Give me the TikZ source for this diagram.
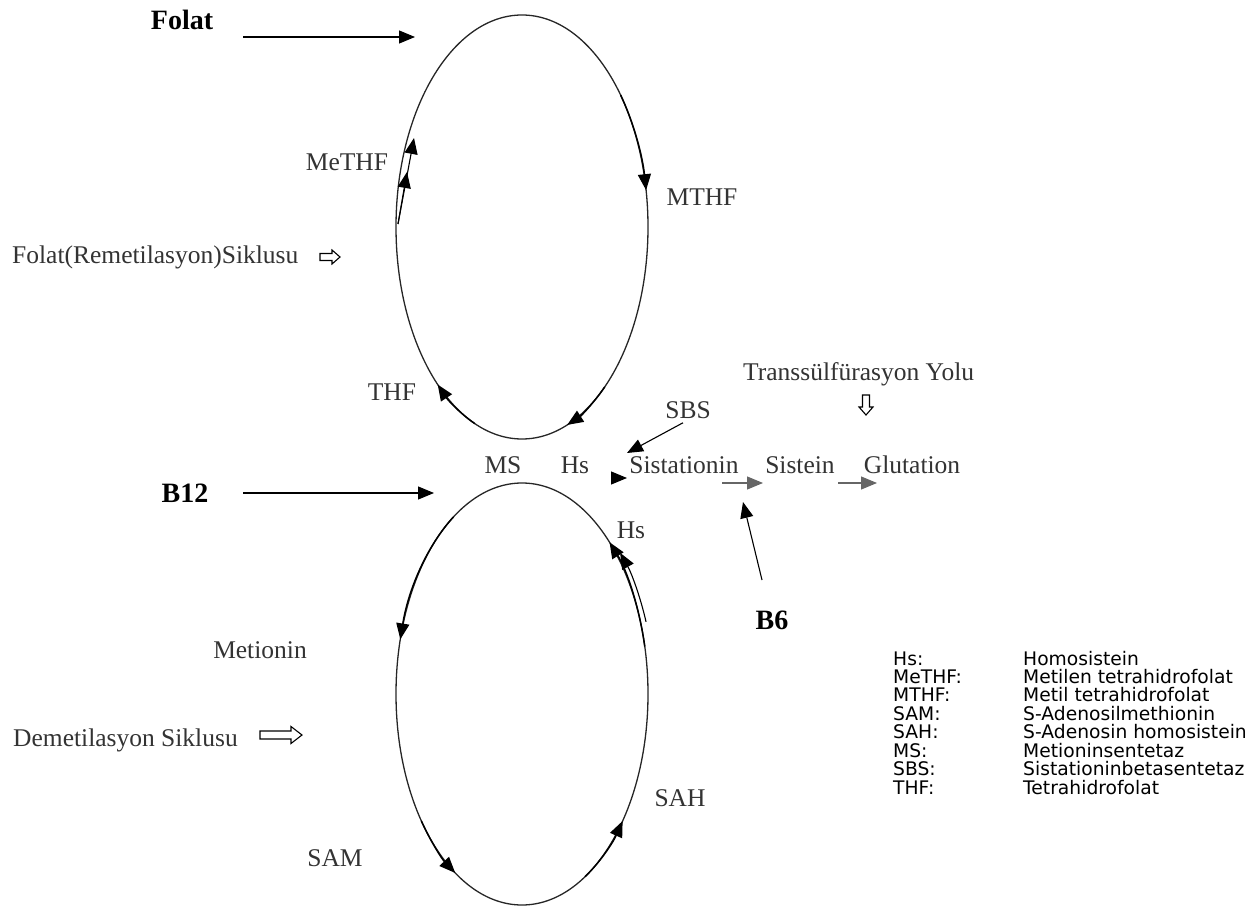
\documentclass[tikz,border=0pt]{standalone}
\usepackage{fontspec}
\setmainfont{Liberation Serif}
\newfontfamily\legendfont{DejaVu Sans}
\usetikzlibrary{arrows.meta}
\tikzset{
  lbl/.style={font=\fontsize{25.5}{30}\selectfont, text=black!80, inner sep=0pt},
  blbl/.style={font=\fontsize{28}{32}\selectfont\bfseries, inner sep=0pt},
  leg/.style={font=\legendfont\fontsize{18.7}{19}\selectfont, inner sep=0pt, anchor=base west},
  arr/.style={line width=1.5pt, -{Triangle[length=16pt,width=13pt]}},
  thinarr/.style={line width=1.1pt, -{Triangle[length=16pt,width=13pt]}},
  cyc/.style={line width=1.3pt, draw=black!85},
  hollowarrow/.style={draw, line width=1.1pt, line join=miter}
}
\begin{document}
\begin{tikzpicture}[x=1pt,y=-1pt]
\useasboundingbox (0,0) rectangle (1258,909);
% cycles
\coordinate (up) at (522,227);
\coordinate (lo) at (522,694);
\draw[cyc] (up) ellipse [x radius=126, y radius=212];
\draw[cyc] (lo) ellipse [x radius=126, y radius=211];
% arrows on upper cycle
\draw[arr] (up) ++(321.5:126 and 212) arc[start angle=321.5, end angle=350, x radius=126, y radius=212];
\draw[arr] (up) ++(49:126 and 212) arc[start angle=49, end angle=69, x radius=126, y radius=212];
\draw[arr] (up) ++(112:126 and 212) arc[start angle=112, end angle=132, x radius=126, y radius=212];
\coordinate (me0) at (398,224);
\coordinate (me1) at (414,138);
\coordinate (me2) at (407,172);
\draw[thinarr] (me0) -- (me1);
\draw[thinarr] (me0) -- (me2);
% arrows on lower cycle
\draw[arr] (lo) ++(237:126 and 211) arc[start angle=237, end angle=195, x radius=126, y radius=211];
\draw[arr] (lo) ++(347:126 and 211) arc[start angle=347, end angle=314, x radius=126, y radius=211];
\draw[thinarr] (lo) ++(340:132 and 211) arc[start angle=340, end angle=318, x radius=132, y radius=211];
\draw[arr] (lo) ++(143:126 and 211) arc[start angle=143, end angle=122, x radius=126, y radius=211];
\draw[arr] (lo) ++(60:126 and 211) arc[start angle=60, end angle=37, x radius=126, y radius=211];
% labels
\node[blbl] (folat) at (182,20) {Folat};
\coordinate (folatA) at (243,37);
\coordinate (folatB) at (415,37);
\draw[thinarr] (folatA) -- (folatB);
\node[lbl] (methf) at (347,162) {MeTHF};
\node[lbl] (mthf) at (702,197) {MTHF};
\node[lbl, anchor=west] (fcyc) at (12,257) {Folat(Remetilasyon)Siklusu};
\draw[hollowarrow, shift={(330,257)}] (-10,-3.5) -- (2,-3.5) -- (2,-7) -- (10,0) -- (2,7) -- (2,3.5) -- (-10,3.5) -- cycle;
\node[lbl, anchor=west] (trans) at (743,374) {Transsülfürasyon Yolu};
\draw[hollowarrow, shift={(866,405)}] (-3.5,-10) -- (-3.5,2) -- (-7,2) -- (0,10) -- (7,2) -- (3.5,2) -- (3.5,-10) -- cycle;
\node[lbl] (thf) at (392,392) {THF};
\node[lbl] (sbs) at (688,410) {SBS};
\node[lbl] (ms) at (503,465) {MS};
\node[lbl] (hs) at (575,465) {Hs};
\node[lbl] (sist) at (684,465) {Sistationin};
\node[lbl] (sistein) at (800,465) {Sistein};
\node[lbl] (glut) at (912,465) {Glutation};
\draw[thinarr] (sbs.south) ++(-5,4) coordinate (sbsA) -- (627,453) coordinate (sbsB);
\coordinate (hsA) at (611,478);
\coordinate (hsB) at (627,478);
\draw[thinarr] (hsA) -- (hsB);
\coordinate (s1A) at (722,483);
\coordinate (s1B) at (763,483);
\draw[thinarr, draw=black!60] (s1A) -- (s1B);
\coordinate (s2A) at (838,483);
\coordinate (s2B) at (877,483);
\draw[thinarr, draw=black!60] (s2A) -- (s2B);
\node[blbl] (b12) at (185,493) {B12};
\coordinate (b12A) at (243,493);
\coordinate (b12B) at (434,493);
\draw[thinarr] (b12A) -- (b12B);
\node[lbl] (hs2) at (631,530) {Hs};
\node[blbl] (b6) at (772,620) {B6};
\coordinate (b6A) at (762,580);
\coordinate (b6B) at (743,502);
\draw[thinarr] (b6A) -- (b6B);
\node[lbl] (met) at (260,650) {Metionin};
\node[lbl, anchor=west] (dcyc) at (13,740) {Demetilasyon Siklusu};
\draw[hollowarrow, shift={(281,735)}] (-21,-4) -- (10,-4) -- (10,-8.5) -- (21,0) -- (10,8.5) -- (10,4) -- (-21,4) -- cycle;
\node[lbl] (sah) at (680,798) {SAH};
\node[lbl] (sam) at (335,858) {SAM};
% legend
\foreach \a/\b [count=\i from 0] in {Hs:/Homosistein, MeTHF:/Metilen tetrahidrofolat, MTHF:/Metil tetrahidrofolat, SAM:/S-Adenosilmethionin, SAH:/S-Adenosin homosistein, MS:/Metioninsentetaz, SBS:/Sistationinbetasentetaz, THF:/Tetrahidrofolat}{
  \node[leg] (la\i) at (893,{665+18.43*\i}) {\a};
  \node[leg] (lb\i) at (1023,{665+18.43*\i}) {\b};
}
\end{tikzpicture}
\end{document}
